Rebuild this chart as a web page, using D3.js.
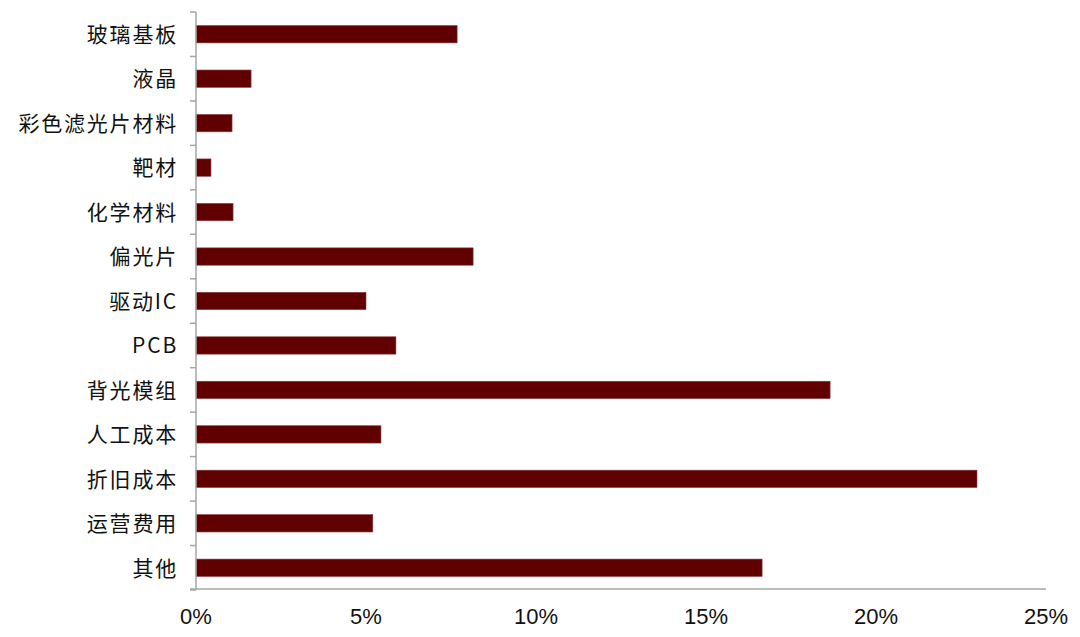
<!DOCTYPE html>
<html><head><meta charset="utf-8">
<script src="https://cdn.jsdelivr.net/npm/d3@7"></script>
<style>body{margin:0;background:#fff;}svg{display:block;}</style>
</head><body>
<svg id="c" width="1080" height="637"></svg>
<script>
const categories = ["玻璃基板","液晶","彩色滤光片材料","靶材","化学材料","偏光片","驱动IC","PCB","背光模组","人工成本","折旧成本","运营费用","其他"];
const values = [7.68, 1.62, 1.06, 0.44, 1.09, 8.15, 5.0, 5.88, 18.65, 5.44, 22.97, 5.2, 16.65];
const xTicks = [0, 5, 10, 15, 20, 25];

const svg = d3.select("#c");
const mLeft = 196, mRight = 1046, mTop = 12, mBottom = 590;
const x = d3.scaleLinear().domain([0, 25]).range([mLeft, mRight]);
const y = d3.scaleBand().domain(categories).range([mTop, mBottom]).paddingInner(0.61).paddingOuter(0.305);

// bars
svg.append("g").selectAll("rect").data(values).join("rect")
  .attr("x", x(0))
  .attr("y", (d,i) => y(categories[i]))
  .attr("width", d => x(d) - x(0))
  .attr("height", y.bandwidth())
  .attr("fill", "#600000")
  .attr("stroke", "#8a3a3a")
  .attr("stroke-width", 0.6);

// y axis
const step = y.step();
const yAxisG = svg.append("g");
yAxisG.append("line").attr("x1", mLeft).attr("x2", mLeft).attr("y1", mTop).attr("y2", mBottom)
  .attr("stroke", "#a6a6a6").attr("stroke-width", 1.5);
const bounds = d3.range(categories.length + 1).map(i => mTop + i * step);
yAxisG.selectAll("line.t").data(bounds).join("line").attr("class","t")
  .attr("x1", mLeft - 6).attr("x2", mLeft).attr("y1", d => d).attr("y2", d => d)
  .attr("stroke", "#a6a6a6").attr("stroke-width", 1.5);
yAxisG.selectAll("text").data(categories).join("text")
  .attr("x", mLeft - 18)
  .attr("y", d => y(d) + y.bandwidth()/2)
  .attr("dy", "0.37em")
  .attr("text-anchor", "end")
  .attr("font-family", "'Noto Sans CJK SC', sans-serif")
  .attr("font-size", 21)
  .attr("letter-spacing", 1.8)
  .attr("fill", "#111")
  .text(d => d);

// x axis
const xAxisG = svg.append("g");
xAxisG.append("line").attr("x1", mLeft - 6).attr("x2", mRight).attr("y1", mBottom - 1).attr("y2", mBottom - 1)
  .attr("stroke", "#a6a6a6").attr("stroke-width", 1.5);
xAxisG.selectAll("text").data(xTicks).join("text")
  .attr("x", d => x(d))
  .attr("y", 624)
  .attr("text-anchor", "middle")
  .attr("font-family", "'Liberation Sans', Arial, sans-serif")
  .attr("font-size", 22)
  .attr("fill", "#111")
  .text(d => d + "%");
</script>
</body></html>
